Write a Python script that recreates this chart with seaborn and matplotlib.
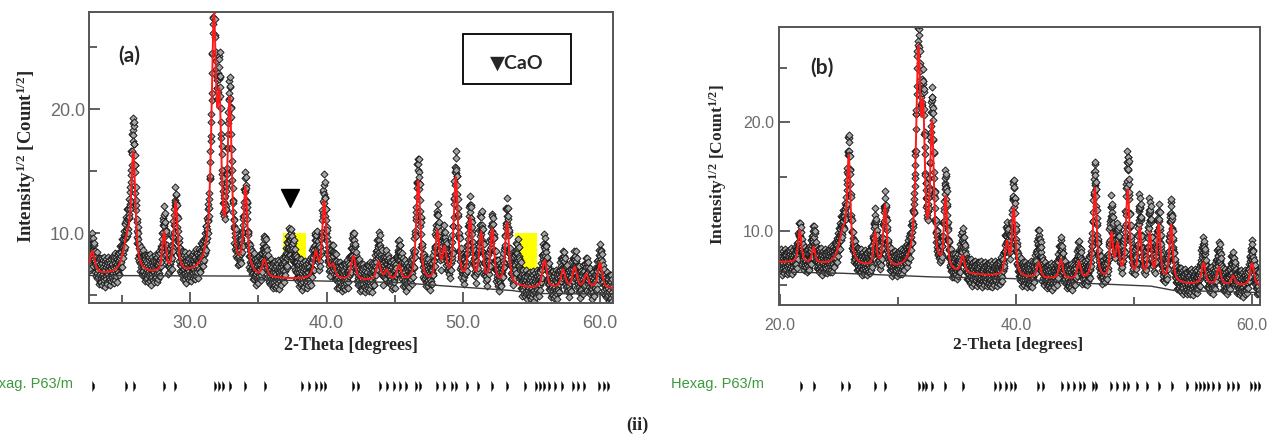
"""
Rietveld refinement plots (a) and (b): observed points, calculated profile,
background and Hexag. P63/m reflection markers.
"""

import numpy as np
import pandas as pd
import matplotlib
matplotlib.use("Agg")
import matplotlib.pyplot as plt
from matplotlib.patches import Rectangle
import seaborn as sns

W, H = 1274, 448

# ---- panel (a): peak table ----
PEAK_POS_A = [22.85, 25.45, 25.85, 28.10, 28.95, 31.75, 32.15, 32.90, 34.05, 35.45,
              37.35, 39.20, 39.82, 40.45, 41.95, 43.80, 44.40, 45.30, 46.70, 48.10,
              48.62, 49.45, 50.50, 51.30, 52.12, 53.20, 53.95, 55.95, 57.30, 58.15,
              59.00, 60.00]
CALC_TOP_A = [8.5, 9.4, 16.0, 9.9, 12.4, 27.2, 19.6, 20.6, 13.5, 7.7,
              0.0, 8.3, 12.5, 7.2, 8.1, 7.6, 6.9, 7.3, 14.2, 10.0,
              8.5, 14.4, 11.1, 9.9, 10.2, 10.8, 0.0, 7.8, 7.0, 7.2,
              6.6, 7.6]
OBS_TOP_A = [8.8, 10.0, 18.0, 11.0, 12.6, 28.5, 21.6, 21.4, 13.8, 8.6,
             9.4, 9.0, 13.5, 7.6, 9.2, 9.0, 7.2, 8.4, 15.4, 11.0,
             9.0, 15.4, 11.9, 10.8, 10.6, 11.7, 8.4, 8.8, 7.6, 7.6,
             7.0, 8.0]
FWHM_A = [0.40, 0.70, 0.30, 0.28, 0.30, 0.34, 0.28, 0.30, 0.28, 0.35,
          0.55, 0.35, 0.30, 0.35, 0.35, 0.35, 0.35, 0.35, 0.30, 0.30,
          0.35, 0.30, 0.30, 0.30, 0.30, 0.30, 0.30, 0.35, 0.35, 0.35,
          0.35, 0.35]
BG_X_A = [22.6, 34.5, 35.0, 45.0, 48.0, 53.5, 55.0, 61.0]
BG_Y_A = [6.6, 6.55, 6.25, 6.05, 5.8, 5.4, 5.15, 5.1]
CALC_LIFT_A = [0.05, 0.05, 0.05, 0.05, 0.05, 0.3, 0.4, 0.4]

# ---- panel (b) ----
PEAK_POS_B = [21.70, 22.87, 25.40, 25.85, 28.08, 28.92, 31.75, 32.15, 32.90, 34.05,
              35.50, 39.25, 39.82, 41.95, 43.82, 45.35, 46.70, 48.10, 48.62, 49.48,
              50.50, 51.35, 52.10, 53.15, 55.90, 57.20, 58.40, 60.00]
CALC_TOP_B = [10.0, 8.4, 9.8, 16.3, 9.7, 12.2, 26.5, 20.0, 19.7, 12.9,
              7.5, 8.8, 12.0, 7.0, 7.3, 7.0, 13.9, 9.6, 8.5, 13.7,
              10.1, 9.6, 10.5, 10.5, 7.0, 6.6, 5.8, 7.0]
OBS_TOP_B = [9.9, 9.6, 10.3, 17.4, 10.7, 12.3, 28.7, 21.5, 21.9, 14.5,
             9.1, 9.5, 13.9, 9.1, 8.2, 7.9, 15.4, 11.8, 9.2, 16.5,
             12.1, 11.8, 11.2, 11.8, 8.4, 7.9, 7.0, 8.0]
FWHM_B = [0.30, 0.30, 0.80, 0.28, 0.28, 0.30, 0.36, 0.28, 0.30, 0.28,
          0.35, 0.35, 0.30, 0.35, 0.35, 0.35, 0.30, 0.30, 0.35, 0.30,
          0.30, 0.30, 0.30, 0.30, 0.35, 0.35, 0.35, 0.35]
BG_X_B = [19.9, 24.8, 32.5, 39.5, 46.0, 51.4, 53.3, 60.7]
BG_Y_B = [6.2, 6.1, 5.75, 5.6, 5.15, 4.9, 4.5, 4.3]
CALC_LIFT_B = [0.9, 0.7, 0.3, 0.1, 0.2, 0.4, 0.6, 0.6]   # calc sits above bg line

# scatter of observed points about the profile (counts^1/2)
RESID = [0.42, -0.85, 0.15, 1.05, -0.32, -1.10, 0.68, 0.05, -0.58, 0.93,
         -0.20, 0.37, -0.95, 1.18, -0.45, 0.22, -0.70, 0.80, -0.05, -1.25,
         0.55, 0.10, -0.38, 0.98, -0.62, 0.30, -0.15, 0.72, -0.88, 0.48,
         -1.02, 0.12, 0.64, -0.28, 1.12, -0.52, 0.02, -0.78, 0.36, 0.86,
         -0.10, -0.66, 0.58, -1.15, 0.25, 0.90, -0.42, 0.18, -0.92, 0.50,
         -0.24, 1.00, -0.60]

# Hexag. P63/m reflection positions (deg)
REFL = [21.8, 22.9, 25.3, 25.9, 28.1, 28.9, 31.8, 32.1, 32.4, 32.9, 34.0, 35.5,
        38.2, 38.7, 39.2, 39.6, 39.9, 41.9, 42.3, 43.9, 44.4, 44.9, 45.4, 45.8,
        46.5, 46.8, 48.1, 48.6, 49.2, 49.5, 50.3, 51.1, 52.1, 53.2, 54.5, 55.3,
        55.6, 55.9, 56.3, 56.7, 57.2, 58.0, 58.4, 58.8, 59.9, 60.3, 60.6]

CAO_BOXES = [(36.78, 38.46, 7.77, 10.0), (53.77, 55.40, 6.42, 10.0)]
CAO_MARK = (37.31, 12.85)

XLIM_A, YLIM_A = (22.63, 60.93), (4.38, 27.87)
XLIM_B, YLIM_B = (19.9, 60.65), (3.15, 28.82)


def profile(x, base, pos, tops, fwhm):
    """sqrt-intensity profile: pseudo-Voigt peaks summed in count space."""
    inten = base ** 2
    for p, t, w in zip(pos, tops, fwhm):
        if t <= 0:
            continue
        b = np.interp(p, x, base)
        amp = max(t ** 2 - b ** 2, 0.0)
        hw = w / 2.0
        lor = 1.0 / (1.0 + ((x - p) / hw) ** 2)
        gau = np.exp(-np.log(2) * ((x - p) / hw) ** 2)
        inten = inten + amp * (0.65 * lor + 0.35 * gau)
    return np.sqrt(inten)


def build(xlim, bg_x, bg_y, lift, pos, calc_top, obs_top, fwhm):
    x = np.arange(xlim[0], xlim[1], 0.016)
    bg = np.interp(x, bg_x, bg_y)
    base = bg + np.interp(x, bg_x, lift)
    calc = profile(x, base, pos, calc_top, fwhm)
    obs = profile(x, base, pos, obs_top, fwhm) + np.resize(RESID, len(x))
    return pd.DataFrame({"x": x, "bg": bg, "calc": calc, "obs": obs})


def style_axes(ax, xlim, ylim, xmaj, xmin, fs):
    ax.set_xlim(*xlim)
    ax.set_ylim(*ylim)
    ax.set_xticks(xmaj)
    ax.set_xticklabels([f"{v:.1f}" for v in xmaj])
    ax.set_xticks(xmin, minor=True)
    ax.set_yticks([10, 20])
    ax.set_yticklabels(["10.0", "20.0"])
    ax.set_yticks([5, 15, 25], minor=True)
    ax.tick_params(which="both", direction="in", colors="#444444",
                   labelcolor="#6b6b6b", labelsize=fs, width=1.2)
    ax.tick_params(which="major", length=8)
    ax.tick_params(which="minor", length=6)
    ax.tick_params(axis="x", pad=9)
    ax.tick_params(axis="y", pad=3)
    for lab in ax.get_xticklabels() + ax.get_yticklabels():
        lab.set_family("Liberation Sans")
    for s in ax.spines.values():
        s.set_color("#555555")
        s.set_linewidth(1.4)
    ax.set_xlabel("")
    ax.set_ylabel("")


def draw_panel(ax, df):
    sns.scatterplot(data=df, x="x", y="obs", ax=ax, marker="D", s=13,
                    color="#a6a6a6", edgecolor="#141414", linewidth=0.65,
                    zorder=2, legend=False)
    sns.lineplot(data=df, x="x", y="bg", ax=ax, color="#3a3a3a", lw=1.0,
                 zorder=3, legend=False)
    sns.lineplot(data=df, x="x", y="calc", ax=ax, color="#ff1a1a", lw=1.4,
                 zorder=4, legend=False)


def draw_refl(rect, xlim):
    axr = fig.add_axes(rect)
    ref = pd.DataFrame({"x": REFL, "y": [0.5] * len(REFL)})
    tick = [(-0.22, -1.0), (0.22, -0.3), (0.22, 0.3), (-0.22, 1.0)]
    sns.scatterplot(data=ref, x="x", y="y", ax=axr, marker=tick, s=55,
                    color="black", edgecolor="black", linewidth=0.2, legend=False)
    axr.set_xlim(*xlim)
    axr.set_ylim(0, 1)
    axr.axis("off")


sns.set_style("ticks")
plt.rcParams["font.family"] = ["Liberation Sans", "DejaVu Sans"]
plt.rcParams["mathtext.default"] = "regular"

df_a = build(XLIM_A, BG_X_A, BG_Y_A, CALC_LIFT_A,
             PEAK_POS_A, CALC_TOP_A, OBS_TOP_A, FWHM_A)
df_b = build(XLIM_B, BG_X_B, BG_Y_B, CALC_LIFT_B,
             PEAK_POS_B, CALC_TOP_B, OBS_TOP_B, FWHM_B)

fig = plt.figure(figsize=(W / 100, H / 100), dpi=100)


def frac(x0, y0, x1, y1):
    return [x0 / W, 1 - y1 / H, (x1 - x0) / W, (y1 - y0) / H]


ax_a = fig.add_axes(frac(89.3, 11.7, 612.7, 303))
ax_b = fig.add_axes(frac(778.5, 26.7, 1259.6, 305))

# yellow highlight of CaO regions (below the data)
for x0, x1, y0, y1 in CAO_BOXES:
    ax_a.fill_between([x0, x1], [y0, y0], [y1, y1], color="#ffff00", lw=0, zorder=1)

draw_panel(ax_a, df_a)
draw_panel(ax_b, df_b)
ax_a.plot([CAO_MARK[0]], [CAO_MARK[1]], marker="v", ms=13, color="black",
          zorder=5, clip_on=False)

style_axes(ax_a, XLIM_A, YLIM_A, [30, 40, 50, 60], [25, 35, 45, 55], 13)
style_axes(ax_b, XLIM_B, YLIM_B, [20, 40, 60], [30, 50], 11.5)

ylab = "Intensity$^{1/2}$ [Count$^{1/2}$]"
serif = ["Liberation Serif", "DejaVu Serif"]
fig.text(26 / W, 1 - 156 / H, ylab, rotation=90, ha="center", va="center",
         fontsize=13.5, fontweight="bold", family=serif)
fig.text(718 / W, 1 - 165 / H, ylab, rotation=90, ha="center", va="center",
         fontsize=12.5, fontweight="bold", family=serif)
fig.text(351 / W, 1 - 345 / H, "2-Theta [degrees]", ha="center", va="center",
         fontsize=13, fontweight="bold", family=serif)
fig.text(1018 / W, 1 - 345 / H, "2-Theta [degrees]", ha="center", va="center",
         fontsize=12.5, fontweight="bold", family=serif)
fig.text(637 / W, 1 - 425 / H, "(ii)", ha="center", va="center",
         fontsize=13, fontweight="bold", family=serif)

bold = ["Lato", "DejaVu Sans"]
fig.text(129 / W, 1 - 56 / H, "(a)", ha="center", va="center",
         fontsize=15, fontweight="bold", family=bold)
fig.text(822 / W, 1 - 68 / H, "(b)", ha="center", va="center",
         fontsize=15, fontweight="bold", family=bold)

# CaO legend box
fig.patches.append(Rectangle((463 / W, 1 - 84 / H), 108 / W, 50 / H,
                             transform=fig.transFigure, fill=False,
                             edgecolor="black", lw=1.3))
fig.text(517 / W, 1 - 63 / H, "\u25BCCaO", ha="center", va="center",
         fontsize=14, fontweight="bold", family=bold)

# phase reflection rows (the left label runs off the page, as in the source)
green = "#3c9a3c"
fig.text(73.5 / W, 1 - 384 / H, "Hexag. P63/m", ha="right", va="center",
         fontsize=10.5, color=green, family=["Liberation Sans"])
fig.text(670.6 / W, 1 - 384 / H, "Hexag. P63/m", ha="left", va="center",
         fontsize=10.5, color=green, family=["Liberation Sans"])
draw_refl(frac(89.3, 376, 612.7, 396), XLIM_A)
draw_refl(frac(778.5, 376, 1259.6, 396), XLIM_B)

fig.savefig("out.png", dpi=100)
